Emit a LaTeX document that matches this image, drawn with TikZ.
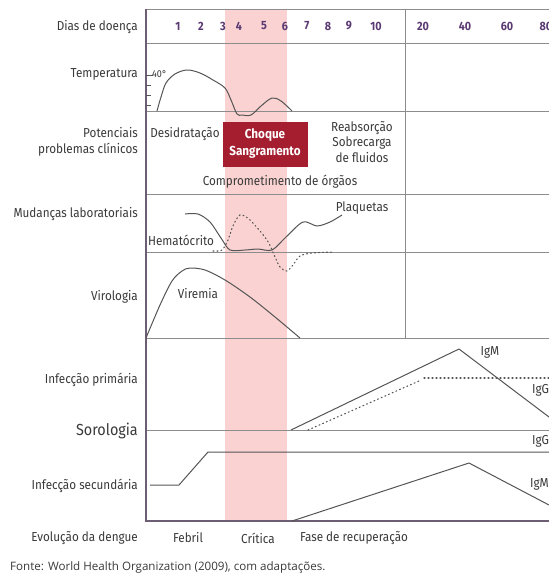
\documentclass[tikz,border=0pt]{standalone}
\usepackage{fontspec}
\setmainfont{Fira Sans}[FakeStretch=0.9]
\newfontfamily\fontefont{Open Sans}
\definecolor{labc}{HTML}{3A3A3A}
\definecolor{numc}{HTML}{5B3A73}
\definecolor{gridc}{HTML}{8C8C8C}
\definecolor{framec}{HTML}{6E5E74}
\definecolor{pinkc}{HTML}{F9D2D1}
\definecolor{redc}{HTML}{A41E2F}
\definecolor{curvec}{HTML}{555555}
\begin{document}
\begin{tikzpicture}[x=1pt,y=-1pt,
  lbl/.style={anchor=east, text=labc, font=\fontsize{13}{16}\selectfont, align=right, inner sep=0pt},
  txt/.style={text=labc, font=\fontsize{13}{16}\selectfont, align=center, inner sep=0pt},
  num/.style={text=numc, font=\fontsize{12}{14}\selectfont\bfseries, inner sep=0pt},
  grid/.style={draw=gridc, line width=0.9pt},
  frame/.style={draw=framec, line width=1.1pt},
  curve/.style={draw=curvec, line width=1pt, line join=round},
  dots/.style={draw=curvec, line width=1.1pt, dash pattern=on 1pt off 3pt, line cap=round}]
\clip (0,0) rectangle (549,576);
\fill[white] (0,0) rectangle (549,576);
% pink critical band
\fill[pinkc] (225,9) rectangle (287,521);
% grid
\draw[grid] (146,9) -- (549,9);
\draw[grid] (146,43) -- (549,43);
\draw[grid] (146,111) -- (549,111);
\draw[grid] (146,194) -- (549,194);
\draw[grid] (146,252) -- (549,252);
\draw[grid] (146,338) -- (549,338);
\draw[grid] (146,430) -- (549,430);
\draw[grid] (405,9) -- (405,338);
\draw[frame] (146,9) -- (146,521) -- (549,521);
% row labels
\node[lbl] (l1) at (138,27) {Dias de doença};
\node[lbl] (l2) at (138,74) {Temperatura};
\node[lbl] (l3) at (138,142) {Potenciais\\problemas clínicos};
\node[lbl] (l4) at (138,214) {Mudanças laboratoriais};
\node[lbl] (l5) at (138,297) {Virologia};
\node[lbl] (l6) at (138,380) {Infecção primária};
\node[lbl, font=\fontsize{16}{18}\selectfont] (l7) at (138,431) {Sorologia};
\node[lbl] (l8) at (138,486) {Infecção secundária};
\node[lbl] (l9) at (138,538) {Evolução da dengue};
% day numbers
\node[num] (d1) at (178,26) {1};
\node[num] (d2) at (201,26) {2};
\node[num] (d3) at (223,26) {3};
\node[num] (d4) at (239,26) {4};
\node[num] (d5) at (264,26) {5};
\node[num] (d6) at (285,26) {6};
\node[num] (d7) at (307,26) {7};
\node[num] (d8) at (328,26) {8};
\node[num] (d9) at (349,26) {9};
\node[num] (d10) at (376,26) {10};
\node[num] (d20) at (423,26) {20};
\node[num] (d40) at (465,26) {40};
\node[num] (d60) at (507,26) {60};
\node[num] (d80) at (546,26) {80};
% temperature
\draw[curvec, line width=0.9pt] (146,75) -- (153,75);
\draw[curvec, line width=0.9pt] (146,85) -- (151,85);
\draw[curvec, line width=0.9pt] (146,95) -- (151,95);
\draw[curvec, line width=0.9pt] (146,105) -- (151,105);
\node[txt, anchor=west, font=\fontsize{10}{11}\selectfont] (t40) at (152,74) {40°};
\draw[curve] plot[smooth, tension=0.55] coordinates {(157,111) (161,97) (166,83) (175,74) (187,70) (200,73) (213,80) (225,88) (231,100) (237,114) (242,115) (251,115) (261,106) (272,98) (281,101) (292,111)};
% clinical problems
\node[txt] (desid) at (185,134) {Desidratação};
\node[fill=redc, minimum width=85pt, minimum height=45pt, inner sep=0pt] (box) at (265,144) {};
\node[txt, text=white, font=\fontsize{13}{17}\selectfont\bfseries] (boxt) at (box.center) {Choque\\Sangramento};
\node[txt, font=\fontsize{13}{15.5}\selectfont] (reab) at (362,142) {Reabsorção\\Sobrecarga\\de fluidos};
\node[txt] (comp) at (280,182) {Comprometimento de órgãos};
% lab changes
\node[txt] (hemat) at (181,240) {Hematócrito};
\node[txt] (plaq) at (362,208) {Plaquetas};
\draw[curve] plot[smooth, tension=0.5] coordinates {(185,214) (198,214) (210,222) (221,238) (230,250) (245,250) (258,249) (272,250) (286,237) (303,222) (317,226) (330,222) (342,215)};
\draw[dots] plot[smooth, tension=0.5] coordinates {(213,251) (222,250) (228,240) (233,226) (240,215) (250,220) (267,240) (275,257) (280,267) (287,271) (293,265) (300,256) (312,253) (334,252)};
% virology
\node[txt] (vir) at (198,294) {Viremia};
\draw[curve] plot[smooth, tension=0.5] coordinates {(146,338) (160,305) (172,281) (182,271) (190,268) (205,270) (225,280) (250,297) (275,317) (300,338)};
% serology primary
\draw[curve] (291,430) -- (459,349) -- (549,417);
\draw[dots] (308,430) -- (419,381);
\draw[dots] (424,378) -- (549,378);
\node[txt] (igm1) at (490,352) {IgM};
\node[txt, anchor=west] (igg1) at (532,390) {IgG};
% serology secondary
\draw[curve] (150,485) -- (179,485) -- (208,452) -- (549,452);
\draw[curve] (292,521) -- (469,463) -- (549,505);
\node[txt, anchor=west] (igg2) at (532,441) {IgG};
\node[txt, anchor=west] (igm2) at (530,484) {IgM};
% phases
\node[txt] (feb) at (188,538) {Febril};
\node[txt] (crit) at (258,538) {Crítica};
\node[txt] (fase) at (354,538) {Fase de recuperação};
% source
\node[anchor=west, inner sep=0pt, text=labc, font=\fontefont\fontsize{11.6}{13}\selectfont] (src) at (10,567) {Fonte: World Health Organization (2009), com adaptações.};
\end{tikzpicture}
\end{document}
